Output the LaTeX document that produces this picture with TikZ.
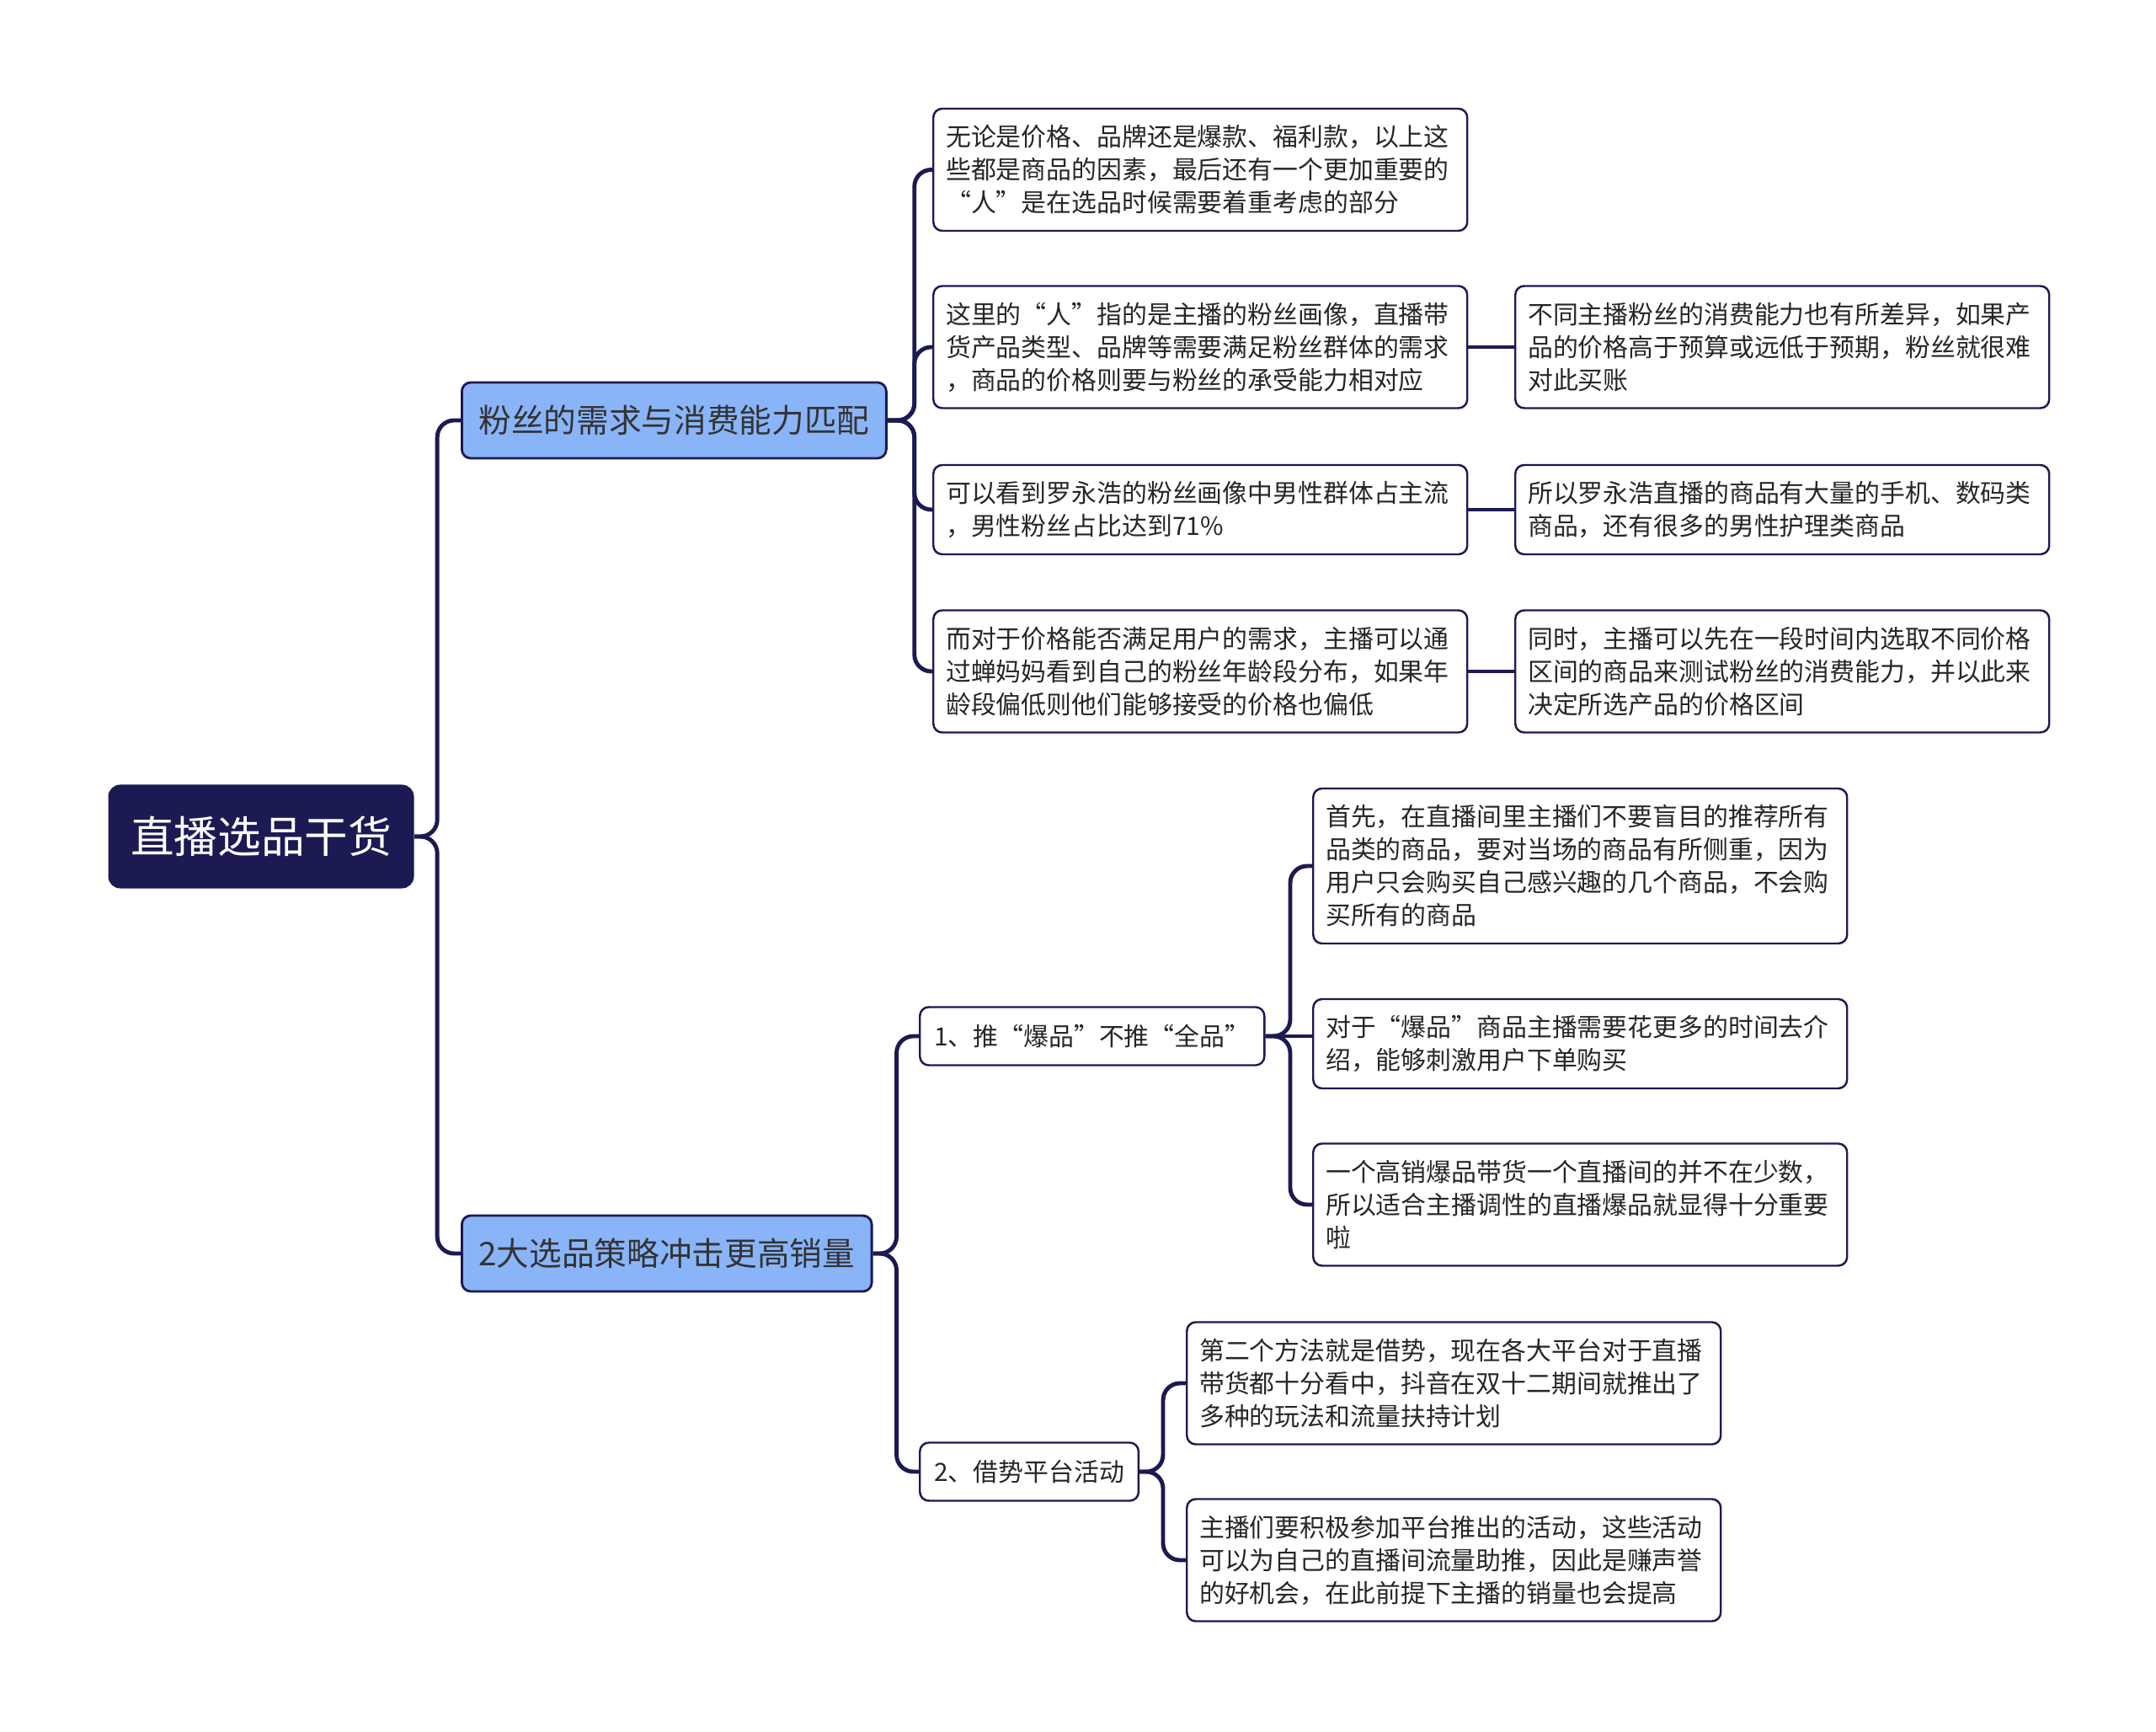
\documentclass[tikz,border=0pt]{standalone}
\usepackage{fontspec}
\setmainfont{Noto Sans CJK SC}
\usetikzlibrary{positioning}
\definecolor{navy}{HTML}{1B1A52}
\definecolor{skyblue}{HTML}{8AB4F8}

\begin{document}
\begin{tikzpicture}[
  rootbox/.style={fill=navy, text=white, rounded corners=4pt,
                  minimum width=3.63cm, minimum height=1.23cm,
                  font=\fontsize{14.7}{18}\selectfont},
  topic/.style={draw=navy, line width=0.8pt, fill=skyblue, rounded corners=3pt,
                minimum height=0.9cm, inner xsep=0.2cm, text=black!80,
                font=\fontsize{11}{13}\selectfont},
  sub/.style={draw=navy, line width=0.7pt, fill=white, rounded corners=3pt,
              minimum height=0.69cm, inner xsep=0.17cm, text=black!85,
              font=\fontsize{8.5}{11.1}\selectfont},
  leaf/.style={sub, text width=6.04cm, align=left, inner xsep=0.15cm},
  two/.style={minimum height=1.06cm},
  three/.style={minimum height=1.45cm},
  four/.style={minimum height=1.84cm},
  link/.style={draw=navy, line width=1.4pt, rounded corners=0.2cm}
]
  \useasboundingbox (0,0) rectangle (25.6,-20.56);

  \node[rootbox] (root) at (3.10,-9.93) {直播选品干货};

  \node[topic, anchor=west] (b1) at (5.47,-4.99) {粉丝的需求与消费能力匹配};
  \node[topic, anchor=west] (b2) at (5.47,-14.88) {2大选品策略冲击更高销量};

  % first branch
  \node[leaf, three, anchor=west] (L1) at (11.07,-2.015)
    {无论是价格、品牌还是爆款、福利款，以上这\\些都是商品的因素，最后还有一个更加重要的\\“人”是在选品时候需要着重考虑的部分};
  \node[leaf, three, anchor=west] (L2) at (11.07,-4.12)
    {这里的“人”指的是主播的粉丝画像，直播带\\货产品类型、品牌等需要满足粉丝群体的需求\\，商品的价格则要与粉丝的承受能力相对应};
  \node[leaf, two, anchor=west] (L3) at (11.07,-6.05)
    {可以看到罗永浩的粉丝画像中男性群体占主流\\，男性粉丝占比达到71\%};
  \node[leaf, three, anchor=west] (L4) at (11.07,-7.97)
    {而对于价格能否满足用户的需求，主播可以通\\过蝉妈妈看到自己的粉丝年龄段分布，如果年\\龄段偏低则他们能够接受的价格也偏低};

  \node[leaf, three, anchor=west] (R2) at (17.98,-4.12)
    {不同主播粉丝的消费能力也有所差异，如果产\\品的价格高于预算或远低于预期，粉丝就很难\\对此买账};
  \node[leaf, two, anchor=west] (R3) at (17.98,-6.05)
    {所以罗永浩直播的商品有大量的手机、数码类\\商品，还有很多的男性护理类商品};
  \node[leaf, three, anchor=west] (R4) at (17.98,-7.97)
    {同时，主播可以先在一段时间内选取不同价格\\区间的商品来测试粉丝的消费能力，并以此来\\决定所选产品的价格区间};

  % second branch
  \node[sub, anchor=west] (S1) at (10.91,-12.30) {1、推“爆品”不推“全品”};
  \node[sub, anchor=west] (S2) at (10.91,-17.47) {2、借势平台活动};

  \node[leaf, four, anchor=west] (T1) at (15.58,-10.28)
    {首先，在直播间里主播们不要盲目的推荐所有\\品类的商品，要对当场的商品有所侧重，因为\\用户只会购买自己感兴趣的几个商品，不会购\\买所有的商品};
  \node[leaf, two, anchor=west] (T2) at (15.58,-12.39)
    {对于“爆品”商品主播需要花更多的时间去介\\绍，能够刺激用户下单购买};
  \node[leaf, three, anchor=west] (T3) at (15.58,-14.30)
    {一个高销爆品带货一个直播间的并不在少数，\\所以适合主播调性的直播爆品就显得十分重要\\啦};

  \node[leaf, three, anchor=west] (U1) at (14.08,-16.42)
    {第二个方法就是借势，现在各大平台对于直播\\带货都十分看中，抖音在双十二期间就推出了\\多种的玩法和流量扶持计划};
  \node[leaf, three, anchor=west] (U2) at (14.08,-18.52)
    {主播们要积极参加平台推出的活动，这些活动\\可以为自己的直播间流量助推，因此是赚声誉\\的好机会，在此前提下主播的销量也会提高};

  % connectors
  \coordinate (s1fork) at (15.32,-12.30);
  \coordinate (s2fork) at (13.81,-17.47);

  \draw[link] (root.east) -- ++(0.27,0) |- (b1.west);
  \draw[link] (root.east) -- ++(0.27,0) |- (b2.west);

  \foreach \n in {L1,L2,L3,L4}
    \draw[link] (b1.east) -- ++(0.32,0) |- (\n.west);
  \draw[link] (L2) -- (R2);
  \draw[link] (L3) -- (R3);
  \draw[link] (L4) -- (R4);

  \draw[link] (b2.east) -- ++(0.28,0) |- (S1.west);
  \draw[link] (b2.east) -- ++(0.28,0) |- (S2.west);

  \draw[link] (S1.east) -- (s1fork) |- (T1.west);
  \draw[link] (S1.east) -- (S1.east -| T2.west);
  \draw[link] (S1.east) -- (s1fork) |- (T3.west);

  \draw[link] (S2.east) -- (s2fork) |- (U1.west);
  \draw[link] (S2.east) -- (s2fork) |- (U2.west);
\end{tikzpicture}
\end{document}
